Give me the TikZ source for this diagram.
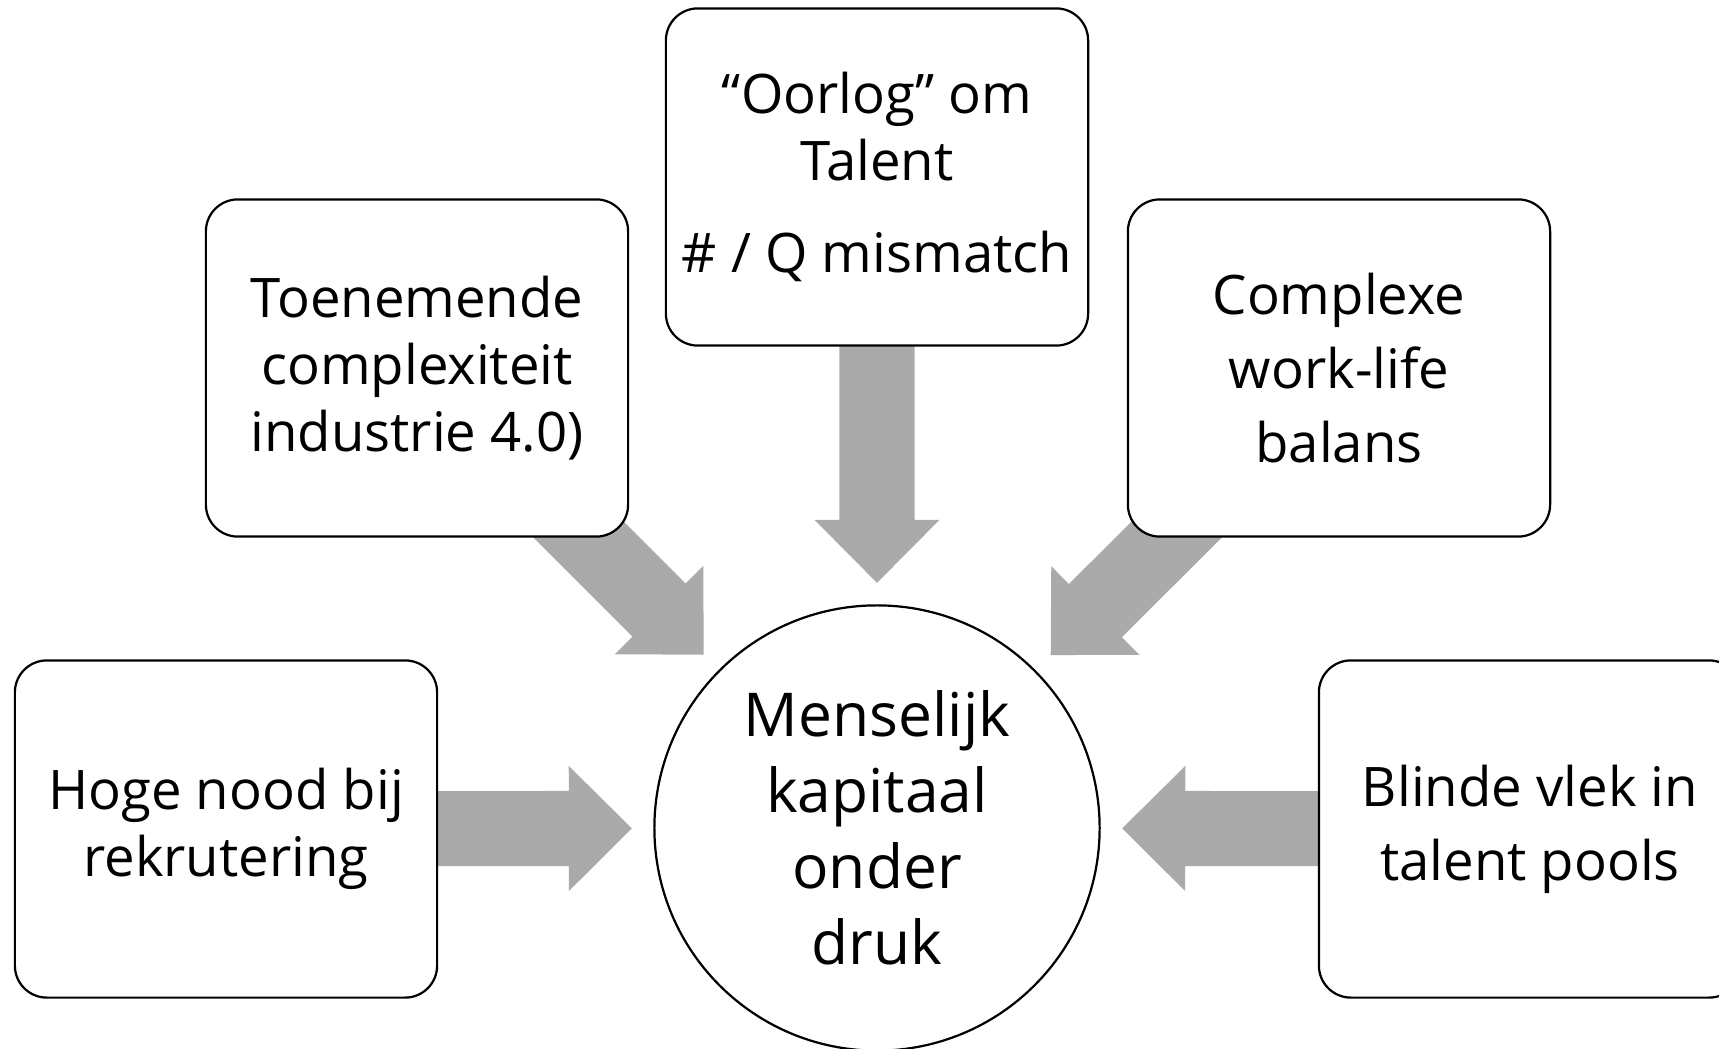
\documentclass[tikz,border=0pt]{standalone}
\usepackage{fontspec}
\setmainfont{Open Sans}
\usetikzlibrary{positioning,calc,backgrounds}
\definecolor{pijlgrijs}{RGB}{170,170,170}
\tikzset{
    blok/.style = {
        draw,
        shape=rectangle,
        rounded corners=0.32cm,
        fill=white,
        minimum width=4.22cm,
        minimum height=3.37cm,
        line width=0.63pt,
        align=center,
        font=\fontsize{15.5}{19}\selectfont
    },
    ruim/.style = {
        font=\fontsize{15.5}{21}\selectfont
    },
    kern/.style = {
        draw,
        shape=circle,
        fill=white,
        minimum size=4.45cm,
        inner sep=0pt,
        line width=0.63pt,
        align=center,
        font=\fontsize{17.2}{21.6}\selectfont
    },
    pijl/.style = {
        fill=pijlgrijs
    },
}
% brede grijze pijl van een blok naar de cirkel
\newcommand{\blokpijl}[1]{%
    \coordinate (punt) at ($(kern)!2.45cm!(#1)$);
    \coordinate (voet) at ($(kern)!3.08cm!(#1)$);
    \path[pijl] ($(#1)!0.375cm!90:(kern)$) -- ($(voet)!0.375cm!90:(kern)$)
        -- ($(voet)!0.625cm!90:(kern)$) -- (punt)
        -- ($(voet)!0.625cm!-90:(kern)$) -- ($(voet)!0.375cm!-90:(kern)$)
        -- ($(#1)!0.375cm!-90:(kern)$) -- cycle;
}
\begin{document}
\begin{tikzpicture}[x=0.01cm, y=-0.01cm]
            \useasboundingbox (0,0) rectangle (1719,1049);

            \node[kern] (kern)      at (877, 828) {Menselijk\\kapitaal\\onder\\druk};
            \node[blok] (oorlog)    at (877, 177) {“Oorlog” om\\Talent\\[7pt]\# / Q mismatch};
            \node[blok] (complex)   at (417, 368) {Toenemende\\complexiteit\\industrie 4.0)};
            \node[blok, ruim] (balans) at (1339, 368) {Complexe\\work-life\\balans};
            \node[blok] (nood)      at (226, 829) {Hoge nood bij\\rekrutering};
            \node[blok, ruim] (vlek) at (1530, 829) {Blinde vlek in\\talent pools};

            \begin{scope}[on background layer]
                \blokpijl{oorlog}
                \blokpijl{complex}
                \blokpijl{balans}
                \blokpijl{nood}
                \blokpijl{vlek}
            \end{scope}
        \end{tikzpicture}
\end{document}
